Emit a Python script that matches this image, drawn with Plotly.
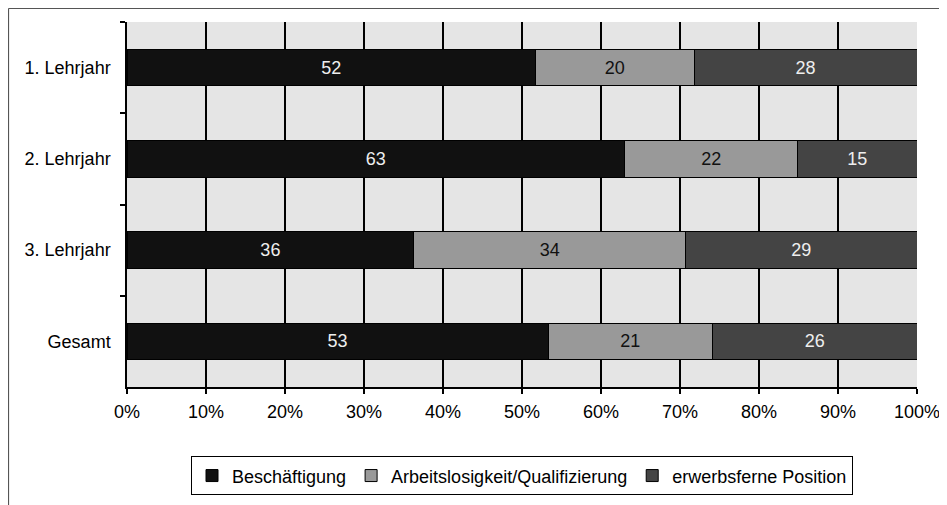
import plotly.graph_objects as go

categories = ["1. Lehrjahr", "2. Lehrjahr", "3. Lehrjahr", "Gesamt"]
series_names = ["Beschäftigung", "Arbeitslosigkeit/Qualifizierung", "erwerbsferne Position"]
beschaeftigung = [51.7, 63.0, 36.3, 53.3]
arbeitslos = [20.1, 21.9, 34.4, 20.8]
erwerbsfern = [28.2, 15.1, 29.3, 25.9]
x_ticks = [0, 10, 20, 30, 40, 50, 60, 70, 80, 90, 100]
x_tick_labels = ["0%", "10%", "20%", "30%", "40%", "50%", "60%", "70%", "80%", "90%", "100%"]

colors = ["#111111", "#999999", "#444444"]
text_colors = ["#eeeeee", "#111111", "#eeeeee"]
FONT = "Liberation Sans, Arial, sans-serif"

fig = go.Figure()
for name, vals, c, tc in zip(series_names, [beschaeftigung, arbeitslos, erwerbsfern], colors, text_colors):
    fig.add_trace(go.Bar(
        name=name, y=categories, x=vals, orientation="h",
        marker=dict(color=c, line=dict(color="#000000", width=1)),
        texttemplate="%{x:.0f}", textposition="inside", insidetextanchor="middle",
        textangle=0, textfont=dict(color=tc, size=18, family=FONT),
        width=0.4, hoverinfo="skip",
    ))

# page body has an 8px offset; margins chosen so the plot area lands at
# x 127..917, y 22..387 in the final screenshot
fig.update_layout(
    barmode="stack",
    width=947, height=505,
    margin=dict(l=119, r=38, t=14, b=126),
    paper_bgcolor="white", plot_bgcolor="#e5e5e5",
    font=dict(family=FONT, size=18, color="#000000"),
    showlegend=True,
    legend=dict(
        orientation="h", x=0.5, xanchor="center", y=-0.19, yanchor="top",
        bordercolor="#000000", borderwidth=1, bgcolor="white",
        font=dict(size=18, family=FONT), traceorder="normal",
        itemwidth=30,
    ),
    xaxis=dict(
        range=[0, 100], tickvals=x_ticks, ticktext=x_tick_labels,
        showgrid=True, gridcolor="#000000", gridwidth=1.5,
        showline=True, linecolor="#000000", linewidth=1.5,
        ticks="outside", ticklen=5, tickcolor="#000000", tickwidth=1.5,
        zeroline=False, fixedrange=True, tickfont=dict(size=18),
        ticklabelstandoff=3,
    ),
    yaxis=dict(
        type="category", autorange="reversed", categoryorder="array", categoryarray=categories,
        showgrid=False, showline=True, linecolor="#000000", linewidth=1.5,
        ticks="outside", ticklen=5, tickcolor="#000000", tickwidth=1.5,
        tickson="boundaries", ticklabelstandoff=11, fixedrange=True,
        tickfont=dict(size=18),
    ),
)

# outer chart frame (cut off at right and bottom in the reference)
fig.add_shape(type="line", xref="paper", yref="paper",
              x0=-0.15, x1=1.1, y0=1.037, y1=1.037,
              line=dict(color="#555555", width=1.2))
fig.add_shape(type="line", xref="paper", yref="paper",
              x0=-0.15, x1=-0.15, y0=1.037, y1=-0.4,
              line=dict(color="#555555", width=1.2))

fig.write_html("out.html")
